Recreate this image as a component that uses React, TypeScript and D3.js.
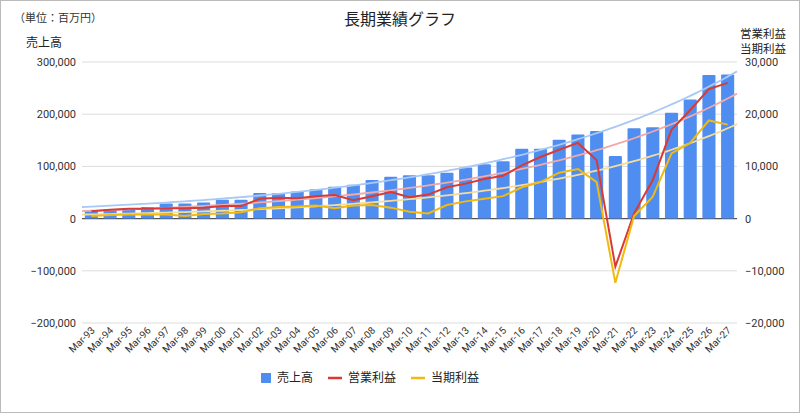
import React from "react";
import * as d3 from "d3";

const categories = ["Mar-93","Mar-94","Mar-95","Mar-96","Mar-97","Mar-98","Mar-99","Mar-00","Mar-01","Mar-02","Mar-03","Mar-04","Mar-05","Mar-06","Mar-07","Mar-08","Mar-09","Mar-10","Mar-11","Mar-12","Mar-13","Mar-14","Mar-15","Mar-16","Mar-17","Mar-18","Mar-19","Mar-20","Mar-21","Mar-22","Mar-23","Mar-24","Mar-25","Mar-26","Mar-27"];
const sales = [15000,18000,20000,22000,29000,29000,31000,36000,36000,49000,49000,52000,56000,61000,65000,74000,80000,83000,83000,88000,98000,104000,110000,134000,134000,151000,161000,168000,120000,173000,175000,203000,228000,275000,276000];
const opProfit = [1400,1700,1900,1900,2000,2000,2100,2400,2400,3800,4000,3900,4300,4500,3500,4300,5100,4100,4600,6000,6700,7600,8200,10200,11800,13200,14500,11200,-9200,1000,7400,17000,20800,24800,26000];
const netProfit = [500,700,800,800,800,500,900,1000,1200,2000,2200,2300,2500,2000,2500,2600,2100,1300,1000,2600,3300,3800,4300,6000,7000,8800,9500,7000,-12300,500,4200,12500,14500,18800,18000];
// exponential trendline values at first and last category
const salesTrend = [23000, 272000];
const opTrend = [1500, 23000];
const netTrend = [800, 17300];
const leftTicks = [-200000,-100000,0,100000,200000,300000];
const rightTicks = [-20000,-10000,0,10000,20000,30000];

function expTrend(ends: number[], n: number) {
  const b = Math.log(ends[1] / ends[0]) / (n - 1);
  return d3.range(-0.5, n - 0.5 + 0.01, 0.25).map(t => [t, ends[0] * Math.exp(b * t)] as [number, number]);
}

export default function App() {
  const W = 800, H = 413;
  const L = 82, R = 737, T = 62, B = 323;
  const x = d3.scaleBand().domain(categories).range([L, R]).paddingInner(0.3).paddingOuter(0.15);
  const yL = d3.scaleLinear().domain([-200000, 300000]).range([B, T]);
  const yR = d3.scaleLinear().domain([-20000, 30000]).range([B, T]);
  const cx = (c: string) => x(c)! + x.bandwidth() / 2;
  const xi = (t: number) => cx(categories[0]) + t * x.step();
  const lineR = d3.line<number>().x((_, i) => cx(categories[i])).y(v => yR(v));
  const trendL = d3.line<[number, number]>().x(p => xi(p[0])).y(p => yL(p[1]));
  const trendR = d3.line<[number, number]>().x(p => xi(p[0])).y(p => yR(p[1]));
  const n = categories.length;
  const font = "Roboto, 'Noto Sans CJK JP', sans-serif";
  return (
    <svg width={W} height={H} style={{ position: "absolute", left: 0, top: 0 }} fontFamily={font}>
      <rect x={0.5} y={0.5} width={W - 1} height={H - 1} fill="#fff" stroke="#bbb" />
      <text x={400} y={25} textAnchor="middle" fontSize={16} fill="#222">長期業績グラフ</text>
      <text x={14} y={22} fontSize={11} fill="#333">（単位：百万円）</text>
      <text x={26} y={47} fontSize={12} fill="#222">売上高</text>
      <text x={763} y={38} textAnchor="middle" fontSize={11.5} fill="#222">営業利益</text>
      <text x={763} y={53} textAnchor="middle" fontSize={11.5} fill="#222">当期利益</text>
      {leftTicks.map(t => (
        <g key={t}>
          <line x1={L} x2={R} y1={yL(t)} y2={yL(t)} stroke={t === 0 ? "#555" : "#ddd"} strokeWidth={t === 0 ? 1.2 : 1} />
          <text x={L - 6} y={yL(t) + 4} textAnchor="end" fontSize={11} fill="#333">{d3.format(",")(t)}</text>
        </g>
      ))}
      {rightTicks.map(t => (
        <text key={t} x={R + 8} y={yR(t) + 4} fontSize={11} fill="#333">{d3.format(",")(t)}</text>
      ))}
      {sales.map((v, i) => (
        <rect key={i} x={x(categories[i])} y={yL(v)} width={x.bandwidth()} height={yL(0) - yL(v)} fill="#4f8ef0" rx={1} />
      ))}
      <path d={trendL(expTrend(salesTrend, n))!} fill="none" stroke="#a8c8f5" strokeWidth={1.8} />
      <path d={trendR(expTrend(opTrend, n))!} fill="none" stroke="#f0aaaa" strokeWidth={1.8} />
      <path d={trendR(expTrend(netTrend, n))!} fill="none" stroke="#f5dc9a" strokeWidth={1.8} />
      <path d={lineR(opProfit)!} fill="none" stroke="#d93a35" strokeWidth={2} />
      <path d={lineR(netProfit)!} fill="none" stroke="#f2b90f" strokeWidth={2} />
      {categories.map(c => (
        <text key={c} transform={`translate(${cx(c) + 4},${B + 8}) rotate(-45)`} textAnchor="end" fontSize={10} fill="#333">{c}</text>
      ))}
      <g fontSize={12} fill="#222">
        <rect x={261} y={373} width={10} height={10} fill="#4f8ef0" />
        <text x={277} y={382}>売上高</text>
        <line x1={328} x2={342} y1={378} y2={378} stroke="#d93a35" strokeWidth={2.5} />
        <text x={348} y={382}>営業利益</text>
        <line x1={411} x2={425} y1={378} y2={378} stroke="#f2b90f" strokeWidth={2.5} />
        <text x={431} y={382}>当期利益</text>
      </g>
    </svg>
  );
}
